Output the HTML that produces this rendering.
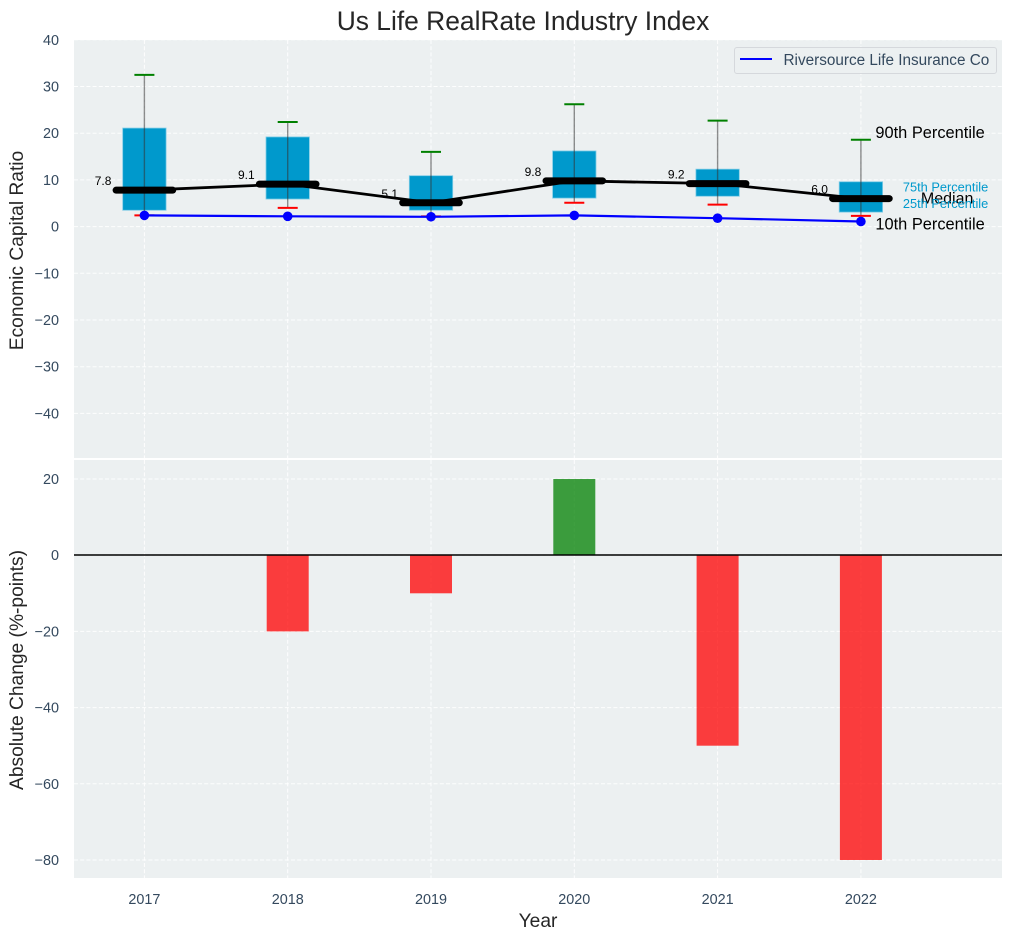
<!DOCTYPE html>
<html>
<head>
<meta charset="utf-8">
<style>
html,body{margin:0;padding:0;background:#fff;width:1012px;height:940px;overflow:hidden}
svg{display:block}
text{font-family:"Liberation Sans",Arial,sans-serif}
</style>
</head>
<body>
<svg id="chart" xmlns="http://www.w3.org/2000/svg" width="1012" height="940" viewBox="0 0 1012 940">
  <text x="523" y="30" text-anchor="middle" font-size="26.4" fill="#262626">Us Life RealRate Industry Index</text>
  <rect x="74" y="40" width="928" height="418" fill="#ecf0f1"/>
  <rect x="74" y="460" width="928" height="418" fill="#ecf0f1"/>
  <g id="topGrid"></g>
  <g id="bottomGrid"></g>
  <g id="bars"></g>
  <line x1="74" x2="1002" y1="555" y2="555" stroke="#000" stroke-width="1.4"/>
  <g id="boxes"></g>
  <g id="series"></g>
  <g id="labels"></g>
  <g id="ticks"></g>
  <text transform="translate(23,250.5) rotate(-90)" text-anchor="middle" font-size="19.2" fill="#262626">Economic Capital Ratio</text>
  <text transform="translate(23,670) rotate(-90)" text-anchor="middle" font-size="19.2" fill="#262626">Absolute Change (%-points)</text>
  <text x="538" y="927" text-anchor="middle" font-size="19.2" fill="#262626">Year</text>
  <g>
    <rect x="734.5" y="47.5" width="262" height="26" rx="2.5" fill="#ecf0f1" fill-opacity="0.85" stroke="#d5d8dc" stroke-width="1"/>
    <line x1="740" x2="772" y1="59" y2="59" stroke="#0000ff" stroke-width="2"/>
    <text x="783.5" y="65" font-size="15.3" fill="#34495e">Riversource Life Insurance Co</text>
  </g>
</svg>
<script>
const years = [2017, 2018, 2019, 2020, 2021, 2022];
const p90 = [32.5, 22.4, 16.0, 26.2, 22.7, 18.6];
const p75 = [21.1, 19.2, 10.9, 16.2, 12.3, 9.6];
const median = [7.8, 9.1, 5.1, 9.8, 9.2, 6.0];
const p25 = [3.5, 5.9, 3.5, 6.1, 6.5, 3.1];
const p10 = [2.4, 4.0, 2.2, 5.1, 4.7, 2.3];
const company = [2.4, 2.2, 2.1, 2.4, 1.8, 1.1];
const change = [0, -20, -10, 20, -50, -80];
const topTicks = [40, 30, 20, 10, 0, -10, -20, -30, -40];
const bottomTicks = [20, 0, -20, -40, -60, -80];

const NS = 'http://www.w3.org/2000/svg';
const xS = v => 144.4 + (v - 2017) * 143.3;
const yT = v => 226.6 - v * 4.67;
const yB = v => 555.2 - v * 3.81;
function mk(parent, tag, attrs, txt) {
  const el = document.createElementNS(NS, tag);
  for (const k in attrs) el.setAttribute(k, attrs[k]);
  if (txt !== undefined) el.textContent = txt;
  document.getElementById(parent).appendChild(el);
  return el;
}
const TICK = '#34495e';
const GRID = {stroke: '#ffffff', 'stroke-width': 1, 'stroke-dasharray': '4 2.2', 'stroke-opacity': 0.9};

topTicks.forEach(t => {
  const g = mk('topGrid', 'line', Object.assign({x1: 74, x2: 1002, y1: yT(t), y2: yT(t)}, GRID));
  
  
  const l = mk('ticks', 'text', {x: 59, y: yT(t) + 5, 'text-anchor': 'end', 'font-size': 14.4, fill: TICK}, String(t).replace('-', '\u2212'));
  
  
});
bottomTicks.forEach(t => {
  const g = mk('bottomGrid', 'line', Object.assign({x1: 74, x2: 1002, y1: yB(t), y2: yB(t)}, GRID));
  
  
  const l = mk('ticks', 'text', {x: 59, y: yB(t) + 5, 'text-anchor': 'end', 'font-size': 14.4, fill: TICK}, String(t).replace('-', '\u2212'));
  
  
});
years.forEach(y => {
  const a = mk('topGrid', 'line', Object.assign({x1: xS(y), x2: xS(y), y1: 40, y2: 458}, GRID));
  
  
  const b = mk('bottomGrid', 'line', Object.assign({x1: xS(y), x2: xS(y), y1: 460, y2: 878}, GRID));
  
  
  const l = mk('ticks', 'text', {x: xS(y), y: 904, 'text-anchor': 'middle', 'font-size': 14.4, fill: TICK}, String(y));
  
  
});

change.forEach((v, i) => {
  const x = xS(years[i]);
  const r = mk('bars', 'rect', {
    x: x - 21, width: 42,
    y: Math.min(yB(v), yB(0)), height: Math.abs(yB(v) - yB(0)),
    fill: v >= 0 ? '#008000' : '#ff0000', 'fill-opacity': 0.75
  });
  
  
});

years.forEach((y, i) => {
  const x = xS(y);
  const box = mk('boxes', 'rect', {
    x: x - 21.7, width: 43.4, y: yT(p75[i]), height: yT(p25[i]) - yT(p75[i]),
    fill: '#0099cc', stroke: '#7fcce6', 'stroke-width': 0.8
  });
  
  
  const w = mk('boxes', 'line', {x1: x, x2: x, y1: yT(p90[i]), y2: yT(p10[i]), stroke: '#333', 'stroke-opacity': 0.55, 'stroke-width': 1.4});
  
  
  const hi = mk('boxes', 'line', {x1: x - 10, x2: x + 10, y1: yT(p90[i]), y2: yT(p90[i]), stroke: '#008000', 'stroke-width': 2});
  
  
  const lo = mk('boxes', 'line', {x1: x - 10, x2: x + 10, y1: yT(p10[i]), y2: yT(p10[i]), stroke: '#ff0000', 'stroke-width': 2});
  
  
});

const medPath = mk('series', 'polyline', {
  points: years.map((y, i) => xS(y) + ',' + yT(median[i])).join(' '),
  fill: 'none', stroke: '#000', 'stroke-width': 2.8
});


years.forEach((y, i) => {
  const m = mk('series', 'line', {
    x1: xS(y) - 28.3, x2: xS(y) + 28.3, y1: yT(median[i]), y2: yT(median[i]),
    stroke: '#000', 'stroke-width': 7, 'stroke-linecap': 'round'
  });
  
  
});
const coPath = mk('series', 'polyline', {
  points: years.map((y, i) => xS(y) + ',' + yT(company[i])).join(' '),
  fill: 'none', stroke: '#0000ff', 'stroke-width': 2.2
});


years.forEach((y, i) => {
  const c = mk('series', 'circle', {cx: xS(y), cy: yT(company[i]), r: 4.8, fill: '#0000ff'});
  
  
});

years.forEach((y, i) => {
  const l = mk('labels', 'text', {x: xS(y) - 33, y: yT(median[i]) - 5, 'text-anchor': 'end', 'font-size': 12, fill: '#000'}, median[i].toFixed(1));
  
  
});

const last = years.length - 1;
const lx = xS(years[last]);
const a90 = mk('labels', 'text', {x: lx + 14.5, y: yT(p90[last]) - 1.5, 'font-size': 16.4, fill: '#000'}, '90th Percentile');


const a10 = mk('labels', 'text', {x: lx + 14.5, y: yT(company[last]) + 8, 'font-size': 16.4, fill: '#000'}, '10th Percentile');


const aMed = mk('labels', 'text', {x: lx + 60, y: yT(median[last]) + 5, 'font-size': 16, fill: '#000'}, 'Median');


const a75 = mk('labels', 'text', {x: lx + 42, y: yT(p75[last]) + 9.5, 'font-size': 12.8, fill: '#0099cc'}, '75th Percentile');


const a25 = mk('labels', 'text', {x: lx + 42, y: yT(p25[last]) - 4, 'font-size': 12.8, fill: '#0099cc'}, '25th Percentile');


</script>
</body>
</html>
